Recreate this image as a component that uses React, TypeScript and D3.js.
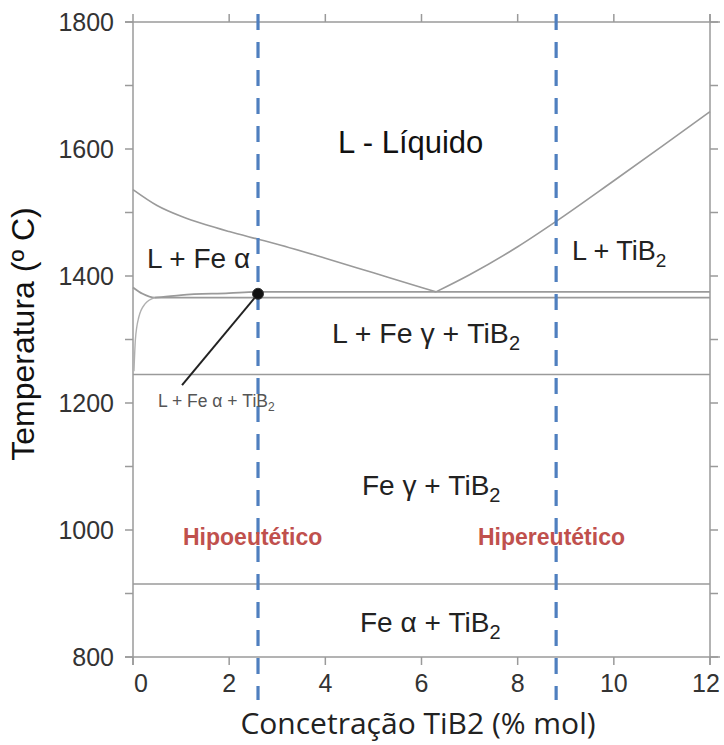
import React from "react";
import * as d3 from "d3";

const W = 724, H = 745;
const xDomain = [0, 12];
const yDomain = [800, 1800];
const xTicks = [0, 2, 4, 6, 8, 10, 12];
const yTicks = [800, 1000, 1200, 1400, 1600, 1800];
const yMinorTicks = [800, 900, 1000, 1100, 1200, 1300, 1400, 1500, 1600, 1700, 1800];

const liqAlphaX = [0, 0.5, 1, 1.5, 2, 2.6, 3, 4, 5, 6, 6.3];
const liqAlphaT = [1536, 1511, 1494, 1481, 1470, 1458, 1450, 1428, 1405, 1382, 1375];
const liqTiB2X = [6.3, 7, 8, 8.8, 10, 11, 12];
const liqTiB2T = [1375, 1402, 1446, 1486, 1550, 1604, 1659];
const upperEutX = [0, 0.2, 0.45, 1, 2, 2.6, 12];
const upperEutT = [1382, 1372, 1366, 1370, 1373, 1375, 1375];
const lowerEutX = [0.45, 12];
const lowerEutT = [1366, 1366];
const solvusX = [0.02, 0.05, 0.12, 0.25, 0.45];
const solvusT = [1250, 1300, 1335, 1356, 1366];
const isotherms = [1245, 915];
const compositions = [2.6, 8.8];
const eutecticPoint = [2.6, 1372];
const leaderEnd = [1.02, 1228];

const x = d3.scaleLinear().domain(xDomain).range([133, 710]);
const y = d3.scaleLinear().domain(yDomain).range([657, 22]);

const line = (xs: number[], ts: number[]) =>
  d3.line<number>().x((d, i) => x(xs[i])).y((d, i) => y(ts[i])).curve(d3.curveMonotoneX)(xs) || "";

const font = "'Liberation Sans', Arial, sans-serif";
const gray = "#9a9a9a";
const txt = "#222";

export default function App() {
  return (
    <svg width={W} height={H} style={{ position: "absolute", left: 0, top: 0, background: "#fff" }}>
      {/* axes */}
      <line x1={125} x2={720} y1={y(1800)} y2={y(1800)} stroke={gray} strokeWidth={1.5} />
      <line x1={125} x2={720} y1={y(800)} y2={y(800)} stroke={gray} strokeWidth={1.5} />
      <line x1={x(0)} x2={x(0)} y1={y(1800)} y2={y(800) + 8} stroke={gray} strokeWidth={1.5} />
      <line x1={x(12)} x2={x(12)} y1={y(1800) - 8} y2={y(800) + 8} stroke={gray} strokeWidth={1.5} />
      {yMinorTicks.map(t => (
        <g key={"yt" + t}>
          <line x1={x(0) - 8} x2={x(0)} y1={y(t)} y2={y(t)} stroke={gray} strokeWidth={1.5} />
          <line x1={x(12)} x2={x(12) + 8} y1={y(t)} y2={y(t)} stroke={gray} strokeWidth={1.5} />
        </g>
      ))}
      {xTicks.map(v => (
        <g key={"xt" + v}>
          <line x1={x(v)} x2={x(v)} y1={y(800)} y2={y(800) + 8} stroke={gray} strokeWidth={1.5} />
          <line x1={x(v)} x2={x(v)} y1={y(1800) - 8} y2={y(1800)} stroke={gray} strokeWidth={1.5} />
          <text x={x(v) + (v === 0 ? 8 : v === 12 ? -4 : 0)} y={692} textAnchor="middle" fontFamily={font} fontSize={25} fill="#333">{v}</text>
        </g>
      ))}
      {yTicks.map(t => (
        <text key={"yl" + t} x={114} y={y(t) + 9} textAnchor="end" fontFamily={font} fontSize={25} fill="#333">{t}</text>
      ))}

      {/* phase boundaries */}
      <path d={line(liqAlphaX, liqAlphaT)} fill="none" stroke={gray} strokeWidth={1.6} />
      <path d={line(liqTiB2X, liqTiB2T)} fill="none" stroke={gray} strokeWidth={1.6} />
      <path d={line(upperEutX, upperEutT)} fill="none" stroke={gray} strokeWidth={1.8} />
      <path d={line(lowerEutX, lowerEutT)} fill="none" stroke={gray} strokeWidth={1.8} />
      <path d={line(solvusX, solvusT)} fill="none" stroke="#b0b0b0" strokeWidth={1.4} />
      {isotherms.map(t => (
        <line key={"iso" + t} x1={x(0)} x2={x(12)} y1={y(t)} y2={y(t)} stroke={gray} strokeWidth={1.6} />
      ))}

      {/* composition lines */}
      {compositions.map(c => (
        <line key={"c" + c} x1={x(c)} x2={x(c)} y1={14} y2={700} stroke="#4f7fbf" strokeWidth={3.2} strokeDasharray="16 12" />
      ))}

      {/* eutectic point annotation */}
      <line x1={x(eutecticPoint[0])} y1={y(eutecticPoint[1])} x2={x(leaderEnd[0])} y2={y(leaderEnd[1])} stroke="#222" strokeWidth={2} />
      <circle cx={x(eutecticPoint[0])} cy={y(eutecticPoint[1])} r={5.5} fill="#111" stroke="#333" strokeWidth={1} />
      <text x={158} y={407} fontFamily={font} fontSize={17.5} fill="#555">
        L + Fe α + TiB<tspan fontSize={12} dy={4}>2</tspan>
      </text>

      {/* region labels */}
      <text x={338} y={153} fontFamily={font} fontSize={31} fill="#111">L - Líquido</text>
      <text x={147} y={268} fontFamily={font} fontSize={28} fill={txt}>L + Fe α</text>
      <text x={572} y={260} fontFamily={font} fontSize={27} fill={txt}>
        L + TiB<tspan fontSize={19} dy={7}>2</tspan>
      </text>
      <text x={332} y={343} fontFamily={font} fontSize={28.5} fill={txt}>
        L + Fe γ + TiB<tspan fontSize={20} dy={7}>2</tspan>
      </text>
      <text x={362} y={495} fontFamily={font} fontSize={28} fill={txt}>
        Fe γ + TiB<tspan fontSize={20} dy={7}>2</tspan>
      </text>
      <text x={360} y={632} fontFamily={font} fontSize={28} fill={txt}>
        Fe α + TiB<tspan fontSize={20} dy={7}>2</tspan>
      </text>
      <text x={183} y={545} fontFamily={font} fontSize={23} fontWeight="bold" fill="#c0504d">Hipoeutético</text>
      <text x={478} y={545} fontFamily={font} fontSize={23} fontWeight="bold" fill="#c0504d">Hipereutético</text>

      {/* axis titles */}
      <text transform={`translate(34, 334) rotate(-90)`} textAnchor="middle" fontFamily={font} fontSize={32} fill="#111">Temperatura (º C)</text>
      <text x={418} y={734} textAnchor="middle" fontFamily="'Open Sans', 'Noto Sans', sans-serif" fontSize={30} fill="#222">Concetração TiB2 (% mol)</text>
    </svg>
  );
}
